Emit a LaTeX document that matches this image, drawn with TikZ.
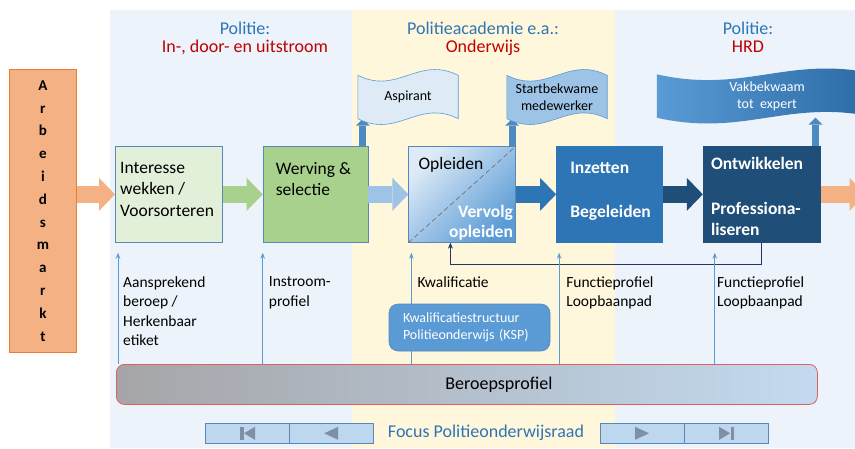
\documentclass[tikz,border=0pt]{standalone}
\usepackage{fontspec}
\setmainfont{Carlito}
\usetikzlibrary{positioning,arrows.meta,calc}

\definecolor{regionblue}{HTML}{ECF3FA}
\definecolor{regionyellow}{HTML}{FFF7DC}
\definecolor{headblue}{HTML}{2E75B6}
\definecolor{headred}{HTML}{C00000}
\definecolor{marktorange}{HTML}{F4B183}
\definecolor{marktline}{HTML}{ED7D31}
\definecolor{boxline}{HTML}{5A86B8}
\definecolor{palegreen}{HTML}{E2F0D9}
\definecolor{midgreen}{HTML}{A9D18E}
\definecolor{paleblue}{HTML}{DEEBF7}
\definecolor{lightblue}{HTML}{9DC3E6}
\definecolor{midblue}{HTML}{5B9BD5}
\definecolor{strongblue}{HTML}{2E75B6}
\definecolor{navyblue}{HTML}{1F4E79}
\definecolor{loopnavy}{HTML}{203864}
\definecolor{profgray}{HTML}{A5A5A8}
\definecolor{profmid}{HTML}{B6C6D8}
\definecolor{profblue}{HTML}{C3DAF0}
\definecolor{profred}{HTML}{E06060}
\definecolor{navfill}{HTML}{BDD7EE}
\definecolor{navicon}{HTML}{7F8FA6}

\pgfdeclarelayer{back}
\pgfdeclarelayer{mid}
\pgfsetlayers{back,mid,main}

% wavy banner drawn round a named node
\newcommand{\bannerwave}[2]{%
  \path[#2] (#1.north west)
    .. controls ($(#1.north west)!0.4!(#1.north east)+(0,20)$)
           and ($(#1.north west)!0.6!(#1.north east)+(0,-20)$) .. (#1.north east)
    -- (#1.south east)
    .. controls ($(#1.south west)!0.6!(#1.south east)+(0,-20)$)
           and ($(#1.south west)!0.4!(#1.south east)+(0,20)$) .. (#1.south west)
    -- cycle;}

\tikzset{
  procbox/.style={draw=boxline, line width=0.7pt, minimum height=96pt, anchor=north west, inner sep=0pt},
  boxtext/.style={anchor=north west, inner sep=0pt, align=left, font=\fontsize{17.5}{21.5}\selectfont},
  flow/.style={line width=17pt, -{Triangle[length=16pt, width=33pt, line width=0pt]}},
  lift/.style={line width=7pt, draw=strongblue!85, -{Triangle[length=7pt, width=14pt, line width=0pt]}},
  feed/.style={line width=1pt, draw=midblue, -{Stealth[length=6pt, width=4.5pt]}},
  labeltext/.style={anchor=north west, inner sep=0pt, align=left, font=\fontsize{15.5}{19.3}\selectfont},
  banner/.style={minimum height=43pt, inner sep=0pt, align=center, font=\fontsize{14}{17}\selectfont},
  header/.style={anchor=north, inner sep=0pt, align=center, text=headblue, font=\fontsize{18}{18}\selectfont},
  navbox/.style={draw=boxline, fill=navfill, line width=0.6pt, minimum width=83.5pt, minimum height=20pt, inner sep=0pt},
}

\begin{document}
\begin{tikzpicture}[x=1pt, y=-1pt]
    \useasboundingbox (0,0) rectangle (855,448);
    \clip (0,0) rectangle (855,448);

    % regions
    \begin{pgfonlayer}{back}
        \fill[regionblue] (110,10) rectangle (352,448);
        \fill[regionyellow] (352,10) rectangle (615,448);
        \fill[regionblue] (615,10) rectangle (855,448);
    \end{pgfonlayer}

    \node[header] (hdrflow) at (245,22) {Politie:\\\textcolor{headred}{In-, door- en uitstroom}};
    \node[header] (hdrschool) at (483,22) {Politieacademie e.a.:\\\textcolor{headred}{Onderwijs}};
    \node[header] (hdrhrd) at (748,22) {Politie:\\\textcolor{headred}{HRD}};

    \node[draw=marktline, fill=marktorange, line width=0.8pt, minimum width=67pt, minimum height=283pt,
          anchor=north west, align=center, inner sep=0pt,
          font=\fontsize{15}{22.8}\selectfont\bfseries] (markt) at (9,69)
        {A\\r\\b\\e\\i\\d\\s\\m\\a\\r\\k\\t};

    % process
    \node[procbox, fill=palegreen, minimum width=107pt] (interesse) at (115,146) {};
    \node[procbox, fill=midgreen, minimum width=105pt, right=40pt of interesse] (werving) {};
    \node[procbox, top color=paleblue, bottom color=midblue, shading angle=45, minimum width=107pt,
          right=40pt of werving] (opleiden) {};
    \node[procbox, draw=strongblue, fill=strongblue, minimum width=106pt, right=40pt of opleiden] (inzetten) {};
    \node[procbox, draw=navyblue, fill=navyblue, minimum width=117pt, right=40pt of inzetten] (ontwikkelen) {};
    \draw[black!55, line width=0.7pt, dash pattern=on 5pt off 3pt] (opleiden.south west) -- (opleiden.north east);

    \node[boxtext] (interessetxt) at ([shift={(5,16)}]interesse.north west) {Interesse\\wekken /\\Voorsorteren};
    \node[boxtext] (wervingtxt) at ([shift={(13,16)}]werving.north west) {Werving \&\\selectie};
    \node[boxtext] (opleidentxt) at ([shift={(10,11)}]opleiden.north west) {Opleiden};
    \node[boxtext, anchor=north east, align=right, text=white, font=\fontsize{17.5}{20}\selectfont\bfseries]
        (vervolgtxt) at ([shift={(-3,59)}]opleiden.north east) {Vervolg\\opleiden};
    \node[boxtext, text=white, font=\fontsize{17.5}{22}\selectfont\bfseries]
        (inzettentxt) at ([shift={(14,16)}]inzetten.north west) {Inzetten\\[22pt]Begeleiden};
    \node[boxtext, text=white, font=\fontsize{17.5}{21}\selectfont\bfseries]
        (ontwikkelentxt) at ([shift={(8,11)}]ontwikkelen.north west) {Ontwikkelen\\[24pt]Professiona-\\liseren};

    \draw[flow, draw=marktorange] (markt.east |- interesse.west) -- (interesse.west);
    \draw[flow, draw=midgreen] (interesse) -- (werving);
    \draw[flow, draw=lightblue] (werving) -- (opleiden);
    \draw[flow, draw=strongblue] (opleiden) -- (inzetten);
    \draw[flow, draw=navyblue] (inzetten) -- (ontwikkelen);
    \draw[flow, draw=marktorange] (ontwikkelen.east) -- ++(45,0);

    % banners
    \node[banner, minimum width=100pt] (aspirant) at (408,97) {Aspirant};
    \node[banner, minimum width=100pt] (startbekwaam) at (557,97) {Startbekwame\\medewerker};
    \node[banner, minimum width=220pt, text=white] (vakbekwaam) at (767,96) {Vakbekwaam\\tot~~expert};
    \begin{pgfonlayer}{mid}
        \clip (0,0) rectangle (855,448);
        \bannerwave{aspirant}{fill=paleblue, draw=midblue, line width=0.6pt}
        \bannerwave{startbekwaam}{fill=lightblue, draw=midblue, line width=0.6pt}
        \bannerwave{vakbekwaam}{left color=midblue, right color=strongblue!70!navyblue}
    \end{pgfonlayer}

    \coordinate (liftwerving) at ([xshift=-5.5]werving.north east);
    \coordinate (liftopleiden) at ([xshift=-4]opleiden.north east);
    \coordinate (liftontwikkelen) at ([xshift=-5]ontwikkelen.north east);
    \begin{pgfonlayer}{back}
        \draw[lift] (liftwerving) -- (liftwerving |- aspirant.south);
        \draw[lift] (liftopleiden) -- (liftopleiden |- startbekwaam.south);
        \draw[lift] (liftontwikkelen) -- (liftontwikkelen |- vakbekwaam.south);
    \end{pgfonlayer}

    % feedback loop
    \draw[line width=1.2pt, loopnavy, -{Stealth[length=6pt, width=5pt]}]
        (ontwikkelen.south) -- ++(0,22) -| ([xshift=42]opleiden.south west);

    % beroepsprofiel and inputs
    \node[draw=profred, line width=0.8pt, rounded corners=8pt, left color=profgray, middle color=profmid,
          right color=profblue, minimum width=701pt, minimum height=40pt, anchor=north west, inner sep=0pt]
        (beroeps) at (116,364) {};
    \node[font=\fontsize{18}{18}\selectfont] (beroepstxt) at ([xshift=32]beroeps.center) {Beroepsprofiel};

    \foreach \procname/\dx in {interesse/3, werving/0, opleiden/3, inzetten/3, ontwikkelen/12} {
        \coordinate (up\procname) at ([shift={(\dx,10)}]\procname.south west);
        \draw[feed] (beroeps.north -| up\procname) -- (up\procname);
    }

    \node[labeltext] (lblinteresse) at ([shift={(8,34)}]interesse.south west) {Aansprekend\\beroep /\\Herkenbaar\\etiket};
    \node[labeltext] (lblwerving) at ([shift={(6,34)}]werving.south west) {Instroom-\\profiel};
    \node[labeltext] (lblopleiden) at ([shift={(9,34)}]opleiden.south west) {Kwalificatie};
    \node[labeltext] (lblinzetten) at ([shift={(10,34)}]inzetten.south west) {Functieprofiel\\Loopbaanpad};
    \node[labeltext] (lblontwikkelen) at ([shift={(14,34)}]ontwikkelen.south west) {Functieprofiel\\Loopbaanpad};

    \node[draw=boxline, fill=midblue, rounded corners=9pt, line width=0.6pt, minimum height=47pt,
          text width=133pt, inner xsep=14pt, align=left, text=white, font=\fontsize{14}{17}\selectfont]
        (ksp) at (469.5,327.5) {Kwalificatiestructuur\\Politieonderwijs (KSP)};

    % navigation
    \node[navbox, anchor=north west] (navfirst) at (205,423) {};
    \node[navbox, right=0pt of navfirst] (navprev) {};
    \node[navbox, anchor=north west] (navnext) at (600,423) {};
    \node[navbox, right=0pt of navnext] (navlast) {};
    \fill[navicon] ([shift={(-7,-6.5)}]navfirst.center) rectangle ([shift={(-3.5,6.5)}]navfirst.center);
    \fill[navicon] ([shift={(-3,0)}]navfirst.center) -- ([shift={(8,-6.5)}]navfirst.center)
        -- ([shift={(8,6.5)}]navfirst.center) -- cycle;
    \fill[navicon] ([shift={(-7,0)}]navprev.center) -- ([shift={(7,-6.5)}]navprev.center)
        -- ([shift={(7,6.5)}]navprev.center) -- cycle;
    \fill[navicon] ([shift={(7,0)}]navnext.center) -- ([shift={(-7,-6.5)}]navnext.center)
        -- ([shift={(-7,6.5)}]navnext.center) -- cycle;
    \fill[navicon] ([shift={(4,0)}]navlast.center) -- ([shift={(-7,-6.5)}]navlast.center)
        -- ([shift={(-7,6.5)}]navlast.center) -- cycle;
    \fill[navicon] ([shift={(4.5,-6.5)}]navlast.center) rectangle ([shift={(8,6.5)}]navlast.center);
    \node[font=\fontsize{18}{18}\selectfont, text=headblue] (focus) at (486,433) {Focus Politieonderwijsraad};
\end{tikzpicture}
\end{document}
